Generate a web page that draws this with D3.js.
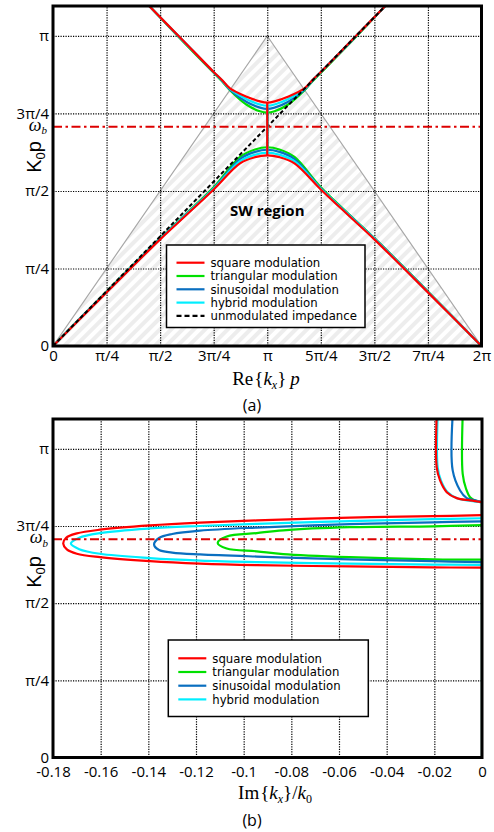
<!DOCTYPE html>
<html>
<head>
<meta charset="utf-8">
<script src="https://cdn.jsdelivr.net/npm/d3@7"></script>
<style>
  body { margin: 0; background: #fff; }
  svg { display: block; }
</style>
</head>
<body>
<svg id="fig" width="494" height="832"></svg>
<script>
// Frequencies (K0p) and Re{kx}p are stored in units of π.
const reTickValues = [0, 0.25, 0.5, 0.75, 1, 1.25, 1.5, 1.75, 2];
const reTickLabels = ["0", "π/4", "π/2", "3π/4", "π", "5π/4", "3π/2", "7π/4", "2π"];
const freqTickValues = [0, 0.25, 0.5, 0.75, 1];
const freqTickLabels = ["0", "π/4", "π/2", "3π/4", "π"];
const imTickValues = [-0.18, -0.16, -0.14, -0.12, -0.1, -0.08, -0.06, -0.04, -0.02, 0];
const imTickLabels = ["-0.18", "-0.16", "-0.14", "-0.12", "-0.1", "-0.08", "-0.06", "-0.04", "-0.02", "0"];
const freqMax = 1.0966;
const omegaB = 0.707;

// folded light line and unmodulated surface-wave line
const lightLine = [[0, 0], [1, 1], [2, 0]];
const unmodulated = [[0, 0], [1.56, 1.103]];

// (a) dispersion: first (lower) band, [Re{kx}p/π, K0p/π]
const squareLower = [[0,0],[0.25,0.173],[0.5,0.344],[0.625,0.424],[0.75,0.505],[0.873,0.589],[0.943,0.609],[1,0.615],[1.057,0.609],[1.127,0.589],[1.25,0.505],[1.375,0.424],[1.5,0.344],[1.75,0.173],[2,0]];
const triangularLower = [[0,0],[0.25,0.176],[0.5,0.348],[0.625,0.429],[0.75,0.512],[0.873,0.61],[0.943,0.634],[1,0.641],[1.057,0.634],[1.127,0.61],[1.25,0.512],[1.375,0.429],[1.5,0.348],[1.75,0.176],[2,0]];
const sinusoidalLower = [[0,0],[0.25,0.175],[0.5,0.347],[0.625,0.427],[0.75,0.509],[0.873,0.603],[0.943,0.626],[1,0.633],[1.057,0.626],[1.127,0.603],[1.25,0.509],[1.375,0.427],[1.5,0.347],[1.75,0.175],[2,0]];
const hybridLower = [[0,0],[0.25,0.174],[0.5,0.346],[0.625,0.426],[0.75,0.507],[0.873,0.596],[0.943,0.617],[1,0.624],[1.057,0.617],[1.127,0.596],[1.25,0.507],[1.375,0.426],[1.5,0.346],[1.75,0.174],[2,0]];

// (a) dispersion: second (upper) band
const squareUpper = [[0.44,1.103],[0.6,0.99],[0.75,0.884],[0.79,0.857],[0.826,0.831],[0.904,0.804],[0.966,0.789],[1,0.785],[1.034,0.789],[1.096,0.804],[1.174,0.831],[1.21,0.857],[1.25,0.884],[1.4,0.99],[1.56,1.103]];
const triangularUpper = [[0.445,1.1],[0.6,0.987],[0.75,0.881],[0.79,0.853],[0.826,0.825],[0.904,0.778],[0.966,0.757],[1,0.753],[1.034,0.757],[1.096,0.778],[1.174,0.825],[1.21,0.853],[1.25,0.881],[1.4,0.987],[1.555,1.1]];
const sinusoidalUpper = [[0.442,1.102],[0.6,0.989],[0.75,0.883],[0.79,0.855],[0.826,0.827],[0.904,0.787],[0.966,0.769],[1,0.765],[1.034,0.769],[1.096,0.787],[1.174,0.827],[1.21,0.855],[1.25,0.883],[1.4,0.989],[1.558,1.102]];
const hybridUpper = [[0.441,1.102],[0.6,0.99],[0.75,0.884],[0.79,0.856],[0.826,0.829],[0.904,0.796],[0.966,0.779],[1,0.775],[1.034,0.779],[1.096,0.796],[1.174,0.829],[1.21,0.856],[1.25,0.884],[1.4,0.99],[1.559,1.102]];

// (b) attenuation inside the stop band, [Im{kx}/k0, K0p/π]
const squareLoop = [[0,0.785],[-0.0206,0.782],[-0.0554,0.777],[-0.0945,0.768],[-0.1183,0.761],[-0.1393,0.752],[-0.1603,0.738],[-0.17,0.726],[-0.1745,0.712],[-0.1757,0.693],[-0.1742,0.674],[-0.17,0.66],[-0.1603,0.649],[-0.1393,0.636],[-0.1183,0.628],[-0.0945,0.623],[-0.0554,0.619],[-0.0206,0.616],[0,0.615]];
const triangularLoop = [[0,0.753],[-0.0206,0.749],[-0.0554,0.746],[-0.0834,0.736],[-0.0945,0.727],[-0.1071,0.716],[-0.1109,0.695],[-0.1071,0.677],[-0.0945,0.668],[-0.0834,0.659],[-0.0554,0.649],[-0.0206,0.642],[0,0.641]];
const sinusoidalLoop = [[0,0.765],[-0.0206,0.762],[-0.0554,0.756],[-0.0945,0.745],[-0.1183,0.735],[-0.13,0.724],[-0.1355,0.711],[-0.1376,0.6905],[-0.1355,0.672],[-0.13,0.664],[-0.1183,0.658],[-0.0945,0.651],[-0.0554,0.642],[-0.0206,0.636],[0,0.633]];
const hybridLoop = [[0,0.775],[-0.0206,0.772],[-0.0554,0.766],[-0.0945,0.757],[-0.1183,0.75],[-0.1393,0.742],[-0.1603,0.727],[-0.169,0.712],[-0.1725,0.693],[-0.169,0.675],[-0.1603,0.66],[-0.1393,0.646],[-0.1183,0.638],[-0.0945,0.633],[-0.0554,0.628],[-0.0206,0.625],[0,0.624]];

// (b) leaky branch above the light-line crossing
const squareLeaky = [[-0.019,1.11],[-0.019,0.94],[-0.0176,0.8975],[-0.0148,0.8596],[-0.0106,0.8402],[-0.005,0.8328],[0,0.8273]];
const triangularLeaky = [[-0.0081,1.11],[-0.0081,0.919],[-0.0067,0.8706],[-0.005,0.8434],[-0.0022,0.8305],[0,0.8273]];
const sinusoidalLeaky = [[-0.0123,1.11],[-0.0123,0.93],[-0.0092,0.8651],[-0.0064,0.8402],[-0.0029,0.8328],[0,0.8273]];
const hybridLeaky = [[-0.0186,1.11],[-0.0186,0.94],[-0.0172,0.897],[-0.0144,0.859],[-0.0102,0.839],[-0.0048,0.8315],[0,0.8265]];

const modulationNames = ["square modulation", "triangular modulation", "sinusoidal modulation", "hybrid modulation"];
const modulationColors = ["#ff0000", "#00e000", "#0a6fc0", "#00eeff"];
const unmodulatedName = "unmodulated impedance";

// drawing order: square (red) last so it sits on top
const modulations = [
  { name: modulationNames[1], color: modulationColors[1], lower: triangularLower, upper: triangularUpper, loop: triangularLoop, leaky: triangularLeaky },
  { name: modulationNames[2], color: modulationColors[2], lower: sinusoidalLower, upper: sinusoidalUpper, loop: sinusoidalLoop, leaky: sinusoidalLeaky },
  { name: modulationNames[3], color: modulationColors[3], lower: hybridLower, upper: hybridUpper, loop: hybridLoop, leaky: hybridLeaky },
  { name: modulationNames[0], color: modulationColors[0], lower: squareLower, upper: squareUpper, loop: squareLoop, leaky: squareLeaky }
];
const legendOrder = modulationNames.map(n => modulations.find(m => m.name === n));

const svg = d3.select("#fig");
svg.append("rect").attr("width", 494).attr("height", 832).attr("fill", "#fff");
const defs = svg.append("defs");

// diagonal hatch for the slow-wave region
const hatch = defs.append("pattern")
  .attr("id", "hatch").attr("patternUnits", "userSpaceOnUse")
  .attr("width", 8).attr("height", 8).attr("patternTransform", "rotate(45)");
hatch.append("rect").attr("width", 8).attr("height", 8).attr("fill", "#fff");
hatch.append("rect").attr("width", 4).attr("height", 8).attr("fill", "#ededed");

const tickFont = "'Open Sans', 'DejaVu Sans', sans-serif";
const legendFont = "'DejaVu Sans', sans-serif";
const serifFont = "'Liberation Serif', 'DejaVu Serif', serif";

function clipFor(id, x, y) {
  defs.append("clipPath").attr("id", id).append("rect")
    .attr("x", x.range()[0]).attr("y", y.range()[1])
    .attr("width", x.range()[1] - x.range()[0])
    .attr("height", y.range()[0] - y.range()[1]);
}

function drawGrid(g, x, y, xGrid, yGrid) {
  const h = y.range()[0] - y.range()[1];
  const w = x.range()[1] - x.range()[0];
  const gx = g.append("g").attr("transform", `translate(0,${y.range()[0]})`)
    .call(d3.axisBottom(x).tickValues(xGrid).tickSize(-h).tickFormat(""));
  const gy = g.append("g").attr("transform", `translate(${x.range()[0]},0)`)
    .call(d3.axisLeft(y).tickValues(yGrid).tickSize(-w).tickFormat(""));
  [gx, gy].forEach(a => {
    a.select(".domain").remove();
    a.selectAll("line").attr("stroke", "#000").attr("stroke-width", 1.2).attr("stroke-dasharray", "1.2,1.3");
  });
}

function drawTickLabels(g, x, y, xVals, xLabels, yVals, yLabels, xPad) {
  const ax = g.append("g").attr("transform", `translate(0,${y.range()[0]})`)
    .call(d3.axisBottom(x).tickValues(xVals).tickSize(0).tickPadding(xPad)
      .tickFormat((d, i) => xLabels[i]));
  const ay = g.append("g").attr("transform", `translate(${x.range()[0]},0)`)
    .call(d3.axisLeft(y).tickValues(yVals).tickSize(0).tickPadding(4)
      .tickFormat((d, i) => yLabels[i]));
  [ax, ay].forEach(a => {
    a.select(".domain").remove();
    a.selectAll("text").attr("font-family", tickFont).attr("font-size", 15).attr("fill", "#000");
  });
}

function drawFrame(g, x, y) {
  g.append("rect")
    .attr("x", x.range()[0]).attr("y", y.range()[1])
    .attr("width", x.range()[1] - x.range()[0])
    .attr("height", y.range()[0] - y.range()[1])
    .attr("fill", "none").attr("stroke", "#000").attr("stroke-width", 3);
}

function drawOmegaB(g, x, y, cx) {
  g.append("line")
    .attr("x1", x.range()[0]).attr("x2", x.range()[1])
    .attr("y1", y(omegaB)).attr("y2", y(omegaB))
    .attr("stroke", "#dd0000").attr("stroke-width", 2)
    .attr("stroke-dasharray", "9,3.5,2.5,3.5");
  const t = g.append("text").attr("x", cx).attr("y", y(omegaB) + 4)
    .attr("text-anchor", "end").attr("font-family", serifFont).attr("font-style", "italic");
  t.append("tspan").attr("font-size", 18).text("ω");
  t.append("tspan").attr("font-size", 11).attr("dy", 3.5).text("b");
}

function drawYTitle(g, cx, cy) {
  const t = g.append("text").attr("transform", `translate(${cx},${cy}) rotate(-90)`)
    .attr("text-anchor", "middle").attr("font-family", "'Liberation Sans', Arial, sans-serif")
    .attr("font-size", 20);
  t.append("tspan").text("K");
  t.append("tspan").attr("font-size", 13).attr("dy", 4).text("0");
  t.append("tspan").attr("dy", -4).text("p");
}

function drawLegend(g, x0, y0, w, h, entries, firstRow, rowStep) {
  g.append("rect").attr("x", x0).attr("y", y0).attr("width", w).attr("height", h)
    .attr("fill", "#fff").attr("stroke", "#000").attr("stroke-width", 1.5);
  const rows = g.selectAll(null).data(entries).join("g")
    .attr("transform", (d, i) => `translate(${x0 + 10},${y0 + firstRow + i * rowStep})`);
  rows.append("line").attr("x1", 0).attr("x2", 28)
    .attr("stroke", d => d.color).attr("stroke-width", 2.2)
    .attr("stroke-dasharray", d => d.dash || null);
  rows.append("text").attr("x", 34).attr("dy", "0.36em")
    .attr("font-family", legendFont).attr("font-size", 11.7).attr("fill", "#000")
    .text(d => d.name);
}

const smooth = d3.curveCatmullRom.alpha(0.5);

// ---------------- (a) Re{kx}p dispersion ----------------
const xA = d3.scaleLinear().domain([0, 2]).range([53, 481.5]);
const yA = d3.scaleLinear().domain([0, freqMax]).range([346, 6]);
clipFor("clipA", xA, yA);
const gA = svg.append("g");
const plotA = gA.append("g").attr("clip-path", "url(#clipA)");
const lineA = d3.line().x(d => xA(d[0])).y(d => yA(d[1]));

plotA.append("path").datum(lightLine).attr("d", lineA).attr("fill", "url(#hatch)");
plotA.append("path").datum(lightLine).attr("d", lineA)
  .attr("fill", "none").attr("stroke", "#a8a8a8").attr("stroke-width", 1.2);
drawGrid(plotA, xA, yA, reTickValues.slice(1, -1), freqTickValues.slice(1));
drawOmegaB(gA, xA, yA, 47);

plotA.append("text").attr("x", xA(1)).attr("y", yA(0.418))
  .attr("text-anchor", "middle").attr("font-family", tickFont)
  .attr("font-weight", "bold").attr("font-size", 15).text("SW region");

const bandLine = d3.line().x(d => xA(d[0])).y(d => yA(d[1])).curve(smooth);
modulations.forEach(m => {
  plotA.append("path").datum(m.lower).attr("d", bandLine)
    .attr("fill", "none").attr("stroke", m.color).attr("stroke-width", 2.2);
  plotA.append("path").datum(m.upper).attr("d", bandLine)
    .attr("fill", "none").attr("stroke", m.color).attr("stroke-width", 2.2);
});
plotA.append("path").datum(unmodulated).attr("d", lineA)
  .attr("fill", "none").attr("stroke", "#000").attr("stroke-width", 2)
  .attr("stroke-dasharray", "4,2.5");
// stop band: Re{kx}p stays at π between the band edges
modulations.forEach(m => {
  const edgeLow = d3.max(m.lower, d => d[1]);
  const edgeHigh = d3.min(m.upper, d => d[1]);
  plotA.append("line").attr("x1", xA(1)).attr("x2", xA(1))
    .attr("y1", yA(edgeLow)).attr("y2", yA(edgeHigh))
    .attr("stroke", m.color).attr("stroke-width", 2.2);
});

drawLegend(gA, 166.5, 245, 198.5, 82.5,
  legendOrder.concat([{ name: unmodulatedName, color: "#000", dash: "5,3" }]), 17.7, 13.3);
drawFrame(gA, xA, yA);
drawTickLabels(gA, xA, yA, reTickValues, reTickLabels, freqTickValues, freqTickLabels, 4);
drawYTitle(gA, 41, 157);

const tA = gA.append("text").attr("x", 266).attr("y", 385)
  .attr("text-anchor", "middle").attr("font-family", serifFont).attr("font-size", 19);
tA.append("tspan").text("Re");
tA.append("tspan").attr("dx", 1).text("{");
tA.append("tspan").attr("font-style", "italic").text("k");
tA.append("tspan").attr("font-style", "italic").attr("font-size", 12).attr("dy", 4).text("x");
tA.append("tspan").attr("dy", -4).text("}");
tA.append("tspan").attr("font-style", "italic").attr("dx", 4).text("p");

gA.append("text").attr("x", 252).attr("y", 411).attr("text-anchor", "middle")
  .attr("font-family", tickFont).attr("font-size", 16).text("(a)");

// ---------------- (b) Im{kx}/k0 attenuation ----------------
const xB = d3.scaleLinear().domain([-0.18, 0]).range([53, 482]);
const yB = d3.scaleLinear().domain([0, freqMax]).range([757.5, 419]);
clipFor("clipB", xB, yB);
const gB = svg.append("g");
const plotB = gB.append("g").attr("clip-path", "url(#clipB)");

drawGrid(plotB, xB, yB, imTickValues.slice(1, -1), freqTickValues.slice(1));
drawOmegaB(gB, xB, yB, 48);

const attLine = d3.line().x(d => xB(d[0])).y(d => yB(d[1])).curve(smooth);
const straightB = d3.line().x(d => xB(d[0])).y(d => yB(d[1]));
modulations.forEach(m => {
  const top = m.loop[0], bottom = m.loop[m.loop.length - 1];
  const leakStart = m.leaky[m.leaky.length - 1];
  // propagating ranges where Im{kx} = 0
  plotB.append("path").datum([[bottom[0], 0], bottom]).attr("d", straightB)
    .attr("fill", "none").attr("stroke", m.color).attr("stroke-width", 2.2);
  plotB.append("path").datum([top, leakStart]).attr("d", straightB)
    .attr("fill", "none").attr("stroke", m.color).attr("stroke-width", 2.2);
  plotB.append("path").datum(m.loop).attr("d", attLine)
    .attr("fill", "none").attr("stroke", m.color).attr("stroke-width", 2.2);
  plotB.append("path").datum(m.leaky).attr("d", attLine)
    .attr("fill", "none").attr("stroke", m.color).attr("stroke-width", 2.2);
});

drawLegend(gB, 168.3, 640, 200, 76.5, legendOrder, 18.3, 13.7);
drawFrame(gB, xB, yB);
drawTickLabels(gB, xB, yB, imTickValues, imTickLabels, freqTickValues, freqTickLabels, 9);
drawYTitle(gB, 41, 572);

const tB = gB.append("text").attr("x", 275).attr("y", 799)
  .attr("text-anchor", "middle").attr("font-family", serifFont).attr("font-size", 19);
tB.append("tspan").text("Im");
tB.append("tspan").attr("dx", 1).text("{");
tB.append("tspan").attr("font-style", "italic").text("k");
tB.append("tspan").attr("font-style", "italic").attr("font-size", 12).attr("dy", 4).text("x");
tB.append("tspan").attr("dy", -4).text("}");
tB.append("tspan").text("/");
tB.append("tspan").attr("font-style", "italic").text("k");
tB.append("tspan").attr("font-size", 12).attr("dy", 4).text("0");

gB.append("text").attr("x", 252).attr("y", 826).attr("text-anchor", "middle")
  .attr("font-family", tickFont).attr("font-size", 16).text("(b)");
</script>
</body>
</html>
